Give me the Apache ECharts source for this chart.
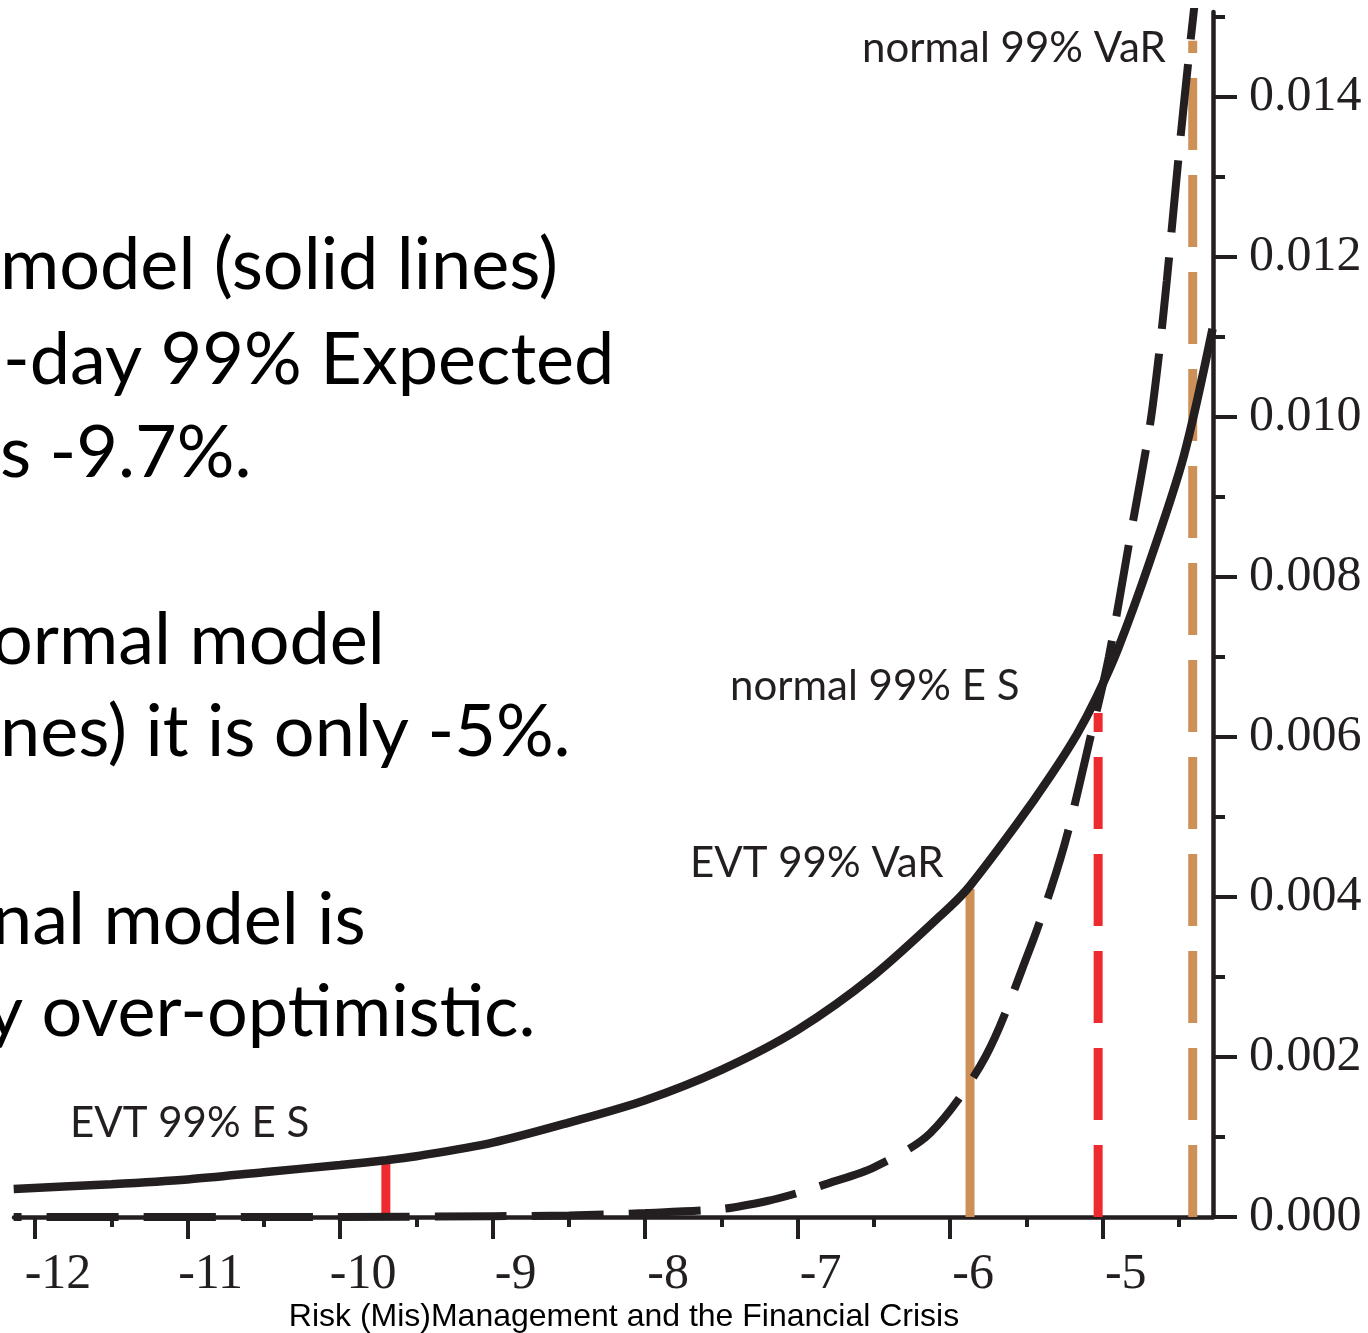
<!DOCTYPE html>
<html>
<head>
<meta charset="utf-8">
<script src="https://cdn.jsdelivr.net/npm/echarts@6/dist/echarts.min.js"></script>
<style>
html,body{margin:0;padding:0;background:#fff;}
#chart{width:1368px;height:1333px;}
</style>
</head>
<body>
<div id="chart"></div>
<script>
// ---- data ----
// EVT model density (solid curve)
const evtX = [-12.14, -11.5, -11.0, -10.5, -10.0, -9.7, -9.5, -9.0, -8.5, -8.0, -7.5, -7.0, -6.5, -6.0, -5.87, -5.56, -5.34, -5.17, -5.04, -4.90, -4.69, -4.47, -4.28];
const evtY = [0.00035, 0.00041, 0.00047, 0.00056, 0.00065, 0.00071, 0.00076, 0.00093, 0.00118, 0.00146, 0.00184, 0.00234, 0.00302, 0.00388, 0.00414, 0.00492, 0.00552, 0.00603, 0.0065, 0.0071, 0.0082, 0.0095, 0.0111];
// normal model density (dashed curve)
const normX = [-12.14, -10.0, -9.0, -8.5, -8.0, -7.5, -7.2, -7.0, -6.8, -6.5, -6.13, -5.77, -5.48, -5.34, -5.23, -5.08, -4.96, -4.82, -4.69, -4.63, -4.58, -4.50, -4.43, -4.36];
const normY = [0, 0, 0.00001, 0.00002, 0.00005, 0.0001, 0.0002, 0.0003, 0.00042, 0.00062, 0.00105, 0.002, 0.00334, 0.0041, 0.0048, 0.006, 0.007, 0.0085, 0.0099, 0.0108, 0.0117, 0.0133, 0.0146, 0.0158];
// risk measures: EVT ES, EVT VaR, normal ES, normal VaR
const riskNames = ['EVT 99% E S', 'EVT 99% VaR', 'normal 99% E S', 'normal 99% VaR'];
const riskX = [-9.7, -5.87, -5.03, -4.41];
const riskTop = [0.00072, 0.0041, 0.0063, 0.0147];
// axes
const xMajorTicks = [-12, -11, -10, -9, -8, -7, -6, -5];
const xMinorTicks = [-11.5, -10.5, -9.5, -8.5, -7.5, -6.5, -5.5, -4.5];
const yMajorTicks = [0, 0.002, 0.004, 0.006, 0.008, 0.010, 0.012, 0.014];
const yMinorTicks = [0.001, 0.003, 0.005, 0.007, 0.009, 0.011, 0.013, 0.015];
const xTitle = 'Risk (Mis)Management and the Financial Crisis';
const bigText = ['model (solid lines)', '-day 99% Expected', 's -9.7%.', 'ormal model', 'nes) it is only -5%.', 'nal model is', 'y over-optimistic.'];

// ---- chart ----
const INK = '#231f20';
const RED = '#ec2a2f';
const TAN = '#cd9157';
const riskColors = [RED, TAN, RED, TAN];
const riskDashed = [false, false, true, true];
const DASH = [72, 25];

const chart = echarts.init(document.getElementById('chart'), null, {renderer: 'canvas'});

const zip = (xs, ys) => xs.map((x, i) => [x, ys[i]]);

const series = [];
riskX.forEach((x, i) => {
  series.push({
    type: 'line', name: riskNames[i], xAxisIndex: 0, yAxisIndex: 0,
    data: [[x, 0], [x, riskTop[i]]],
    showSymbol: false, symbol: 'none', z: 2,
    lineStyle: {color: riskColors[i], width: 9, type: riskDashed[i] ? DASH : 'solid', cap: 'butt'}
  });
});
series.push({
  type: 'line', name: 'normal', xAxisIndex: 0, yAxisIndex: 0,
  data: zip(normX, normY), showSymbol: false, symbol: 'none', z: 3,
  smooth: 0.3,
  lineStyle: {color: INK, width: 8, type: DASH, dashOffset: 64, cap: 'butt'}
});
series.push({
  type: 'line', name: 'EVT', xAxisIndex: 0, yAxisIndex: 0,
  data: zip(evtX, evtY), showSymbol: false, symbol: 'none', z: 4,
  smooth: 0.3,
  lineStyle: {color: INK, width: 8.5, cap: 'butt'}
});

const bigLeft = [0, 3, 0, -8, 0, -8, -14];
const bigBase = [290, 385, 478, 665, 757, 945, 1037];
const BIG = 72;
const graphics = bigText.map((t, i) => ({
  type: 'text', z: 10,
  style: {text: t, x: bigLeft[i], y: bigBase[i] - BIG * 0.33, fill: '#000',
          font: BIG + 'px Lato', verticalAlign: 'middle', align: 'left'}
}));
const smallPos = [[70, 1137], [690, 877], [730, 700], [862, 62]];
const SMALL = 42;
riskNames.forEach((t, i) => {
  graphics.push({type: 'text', z: 10,
    style: {text: t, x: smallPos[i][0], y: smallPos[i][1] - SMALL * 0.33, fill: INK,
            font: SMALL + 'px Lato', verticalAlign: 'middle', align: 'left'}});
});
graphics.push({type: 'text', z: 10,
  style: {text: xTitle, x: 624, y: 1317, fill: '#000', font: '32px "Liberation Sans"',
          verticalAlign: 'middle', align: 'center'}});

const serifLabel = {fontFamily: '"Liberation Serif"', fontSize: 50, color: INK};

chart.setOption({
  animation: false,
  backgroundColor: '#fff',
  grid: {left: 14, right: 155, top: 12, bottom: 116, containLabel: false},
  xAxis: [{
    type: 'value', min: -12.138, max: -4.277, position: 'bottom',
    axisLine: {show: true, onZero: false, lineStyle: {color: INK, width: 4.5}},
    axisTick: {show: true, customValues: xMajorTicks, length: 22, lineStyle: {color: INK, width: 4}},
    axisLabel: {show: true, customValues: xMajorTicks, margin: 33, ...serifLabel,
                padding: [0, 0, 0, 46], formatter: v => String(v)},
    splitLine: {show: false}
  }, {
    type: 'value', min: -12.138, max: -4.277, position: 'bottom',
    axisLine: {show: false, onZero: false},
    axisTick: {show: true, customValues: xMinorTicks, length: 10, lineStyle: {color: INK, width: 4}},
    axisLabel: {show: false},
    splitLine: {show: false}
  }],
  yAxis: [{
    type: 'value', min: 0, max: 0.01506, position: 'right',
    axisLine: {show: true, onZero: false, lineStyle: {color: INK, width: 4.5}},
    axisTick: {show: true, customValues: yMajorTicks, length: 24, lineStyle: {color: INK, width: 4}},
    axisLabel: {show: true, customValues: yMajorTicks, margin: 36, ...serifLabel,
                formatter: v => v.toFixed(3)},
    splitLine: {show: false}
  }, {
    type: 'value', min: 0, max: 0.01506, position: 'right',
    axisLine: {show: false, onZero: false},
    axisTick: {show: true, customValues: yMinorTicks, length: 12, lineStyle: {color: INK, width: 4}},
    axisLabel: {show: false},
    splitLine: {show: false}
  }],
  series: series,
  graphic: graphics
});
</script>
</body>
</html>
